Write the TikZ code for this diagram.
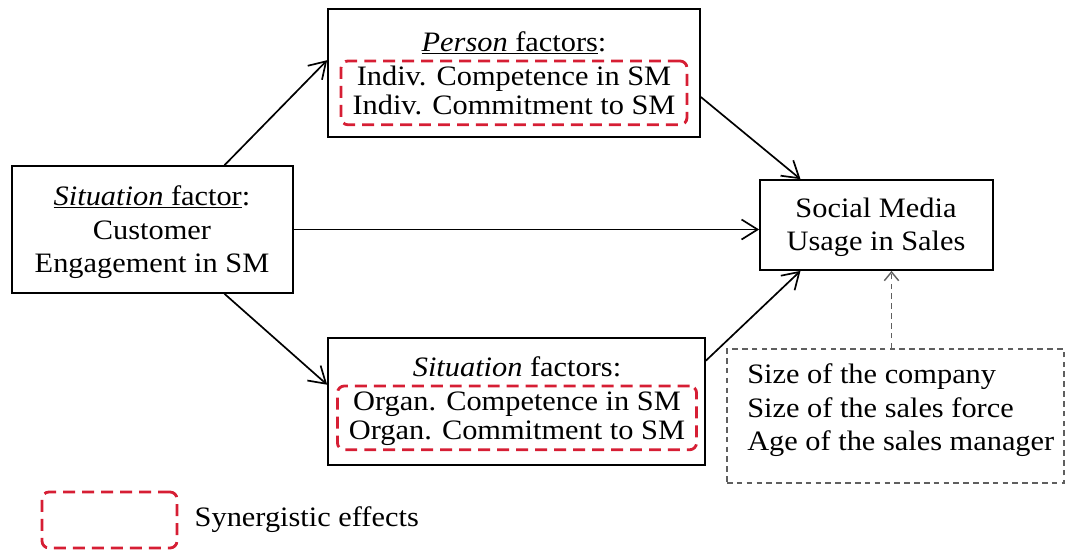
\documentclass[tikz,border=0pt]{standalone}
\usepackage{fontspec}
\setmainfont{Liberation Serif}[FakeStretch=1.08]
\usetikzlibrary{arrows.meta}
\usetikzlibrary{calc}
\usetikzlibrary{fit}
\usetikzlibrary{matrix}
\usetikzlibrary{positioning}

\definecolor{synred}{RGB}{214,30,52}
\definecolor{ctrlgray}{RGB}{95,95,95}
\newcommand{\diagfont}{\fontsize{20}{24}\selectfont}

\tikzset{
  factorbox/.style={draw,rectangle,line width=1.2pt,inner sep=0pt},
  synbox/.style={draw=synred,rectangle,rounded corners=5pt,line width=2pt,dash pattern=on 8.5pt off 5pt},
  ctrlbox/.style={draw=ctrlgray,rectangle,line width=1pt,dash pattern=on 4pt off 3pt,inner sep=0pt},
  textrows/.style={matrix of nodes,inner sep=0pt,row sep=6pt,nodes={inner sep=0pt,text height=14pt,text depth=4pt}},
  effect/.style={line width=1.2pt,-{Straight Barb[length=4mm,width=5mm]}},
  control/.style={ctrlgray,line width=1pt,dash pattern=on 4pt off 3pt,-{Straight Barb[length=2.2mm,width=3.6mm]}},
}

\begin{document}
\begin{tikzpicture}[x=0.025cm,y=-0.025cm,every node/.style={font=\diagfont}]

  \useasboundingbox (0,0) rectangle (1066,549);

  % antecedent
  \matrix [textrows] (engagerows) at (152,232) {
    \underline{\textit{Situation} factor}: \\
    Customer \\
    Engagement in SM \\
  };
  \node [factorbox,fit={(12,166) (293,293)}] (engage) {};

  % person factors
  \matrix [textrows] (personrows) at (514,76) {
    \underline{\textit{Person} factors}: \\
    Indiv. Competence in SM \\[-3pt]
    Indiv. Commitment to SM \\
  };
  \node [factorbox,fit={(328,9) (700,137)}] (person) {};
  \node [synbox,fit=(personrows-2-1) (personrows-3-1),inner xsep=8pt,inner ysep=3pt] (personsyn) {};

  % situation factors
  \matrix [textrows] (organrows) at (517,401) {
    \textit{Situation} factors: \\
    Organ. Competence in SM \\[-3pt]
    Organ. Commitment to SM \\
  };
  \node [factorbox,fit={(328,338) (705,465)}] (organ) {};
  \node [synbox,fit=(organrows-2-1) (organrows-3-1),inner xsep=8pt,inner ysep=3pt] (organsyn) {};

  % outcome
  \matrix [textrows] (usagerows) at (876,227) {
    Social Media \\
    Usage in Sales \\
  };
  \node [factorbox,fit={(760,180) (993,270)}] (usage) {};

  % controls
  \matrix [textrows,nodes={anchor=west},anchor=west] (ctrlrows) at (747,410) {
    Size of the company \\
    Size of the sales force \\
    Age of the sales manager \\
  };
  \node [ctrlbox,fit={(727,349) (1064,483)}] (ctrl) {};

  \path [effect]
    ([xshift=1.8cm]engage.north) edge ([yshift=0.32cm]person.west)
    ([xshift=1.8cm]engage.south) edge ([yshift=0.42cm]organ.west)
    (engage.east) edge (engage.east -| usage.west)
    ([yshift=-0.6cm]person.east) edge ([xshift=-1.9cm]usage.north)
    ([yshift=1.02cm]organ.east) edge ([xshift=-1.9cm]usage.south);

  \draw [control] ([xshift=-0.1cm]ctrl.north) -- ([xshift=-0.1cm]ctrl.north |- usage.south);

  % legend
  \node [synbox,minimum width=3.375cm,minimum height=1.4cm] (legendbox) at (109.5,520) {};
  \node [inner sep=0pt,anchor=west,right=0.4cm of legendbox] (legendtext) {Synergistic effects};

\end{tikzpicture}
\end{document}
